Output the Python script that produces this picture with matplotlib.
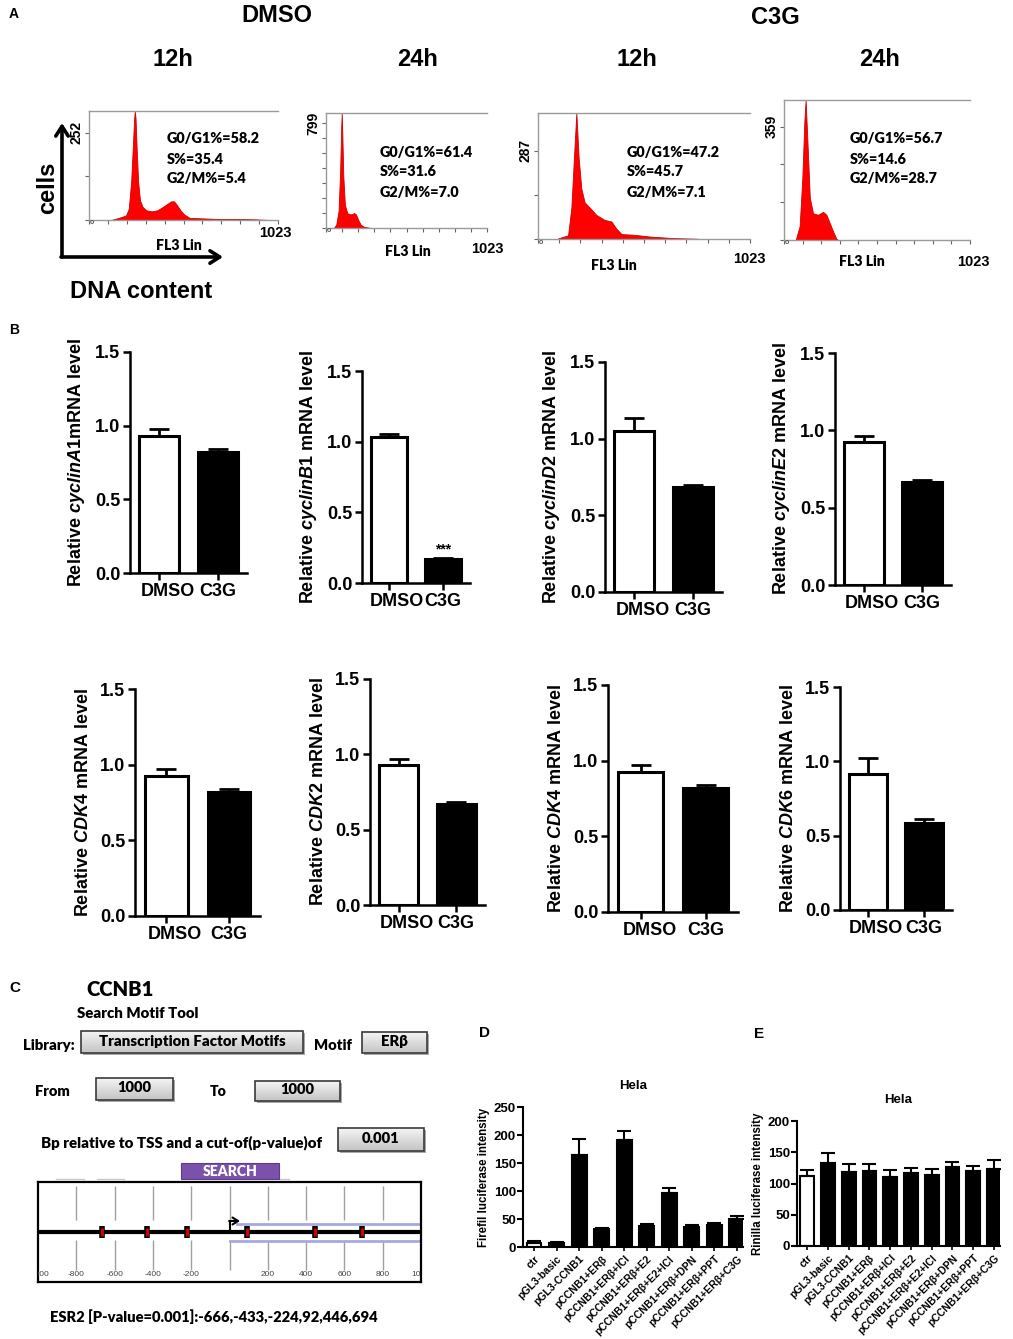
import matplotlib
matplotlib.use('Agg')
import matplotlib.pyplot as plt
from matplotlib import font_manager as fm
from matplotlib.patches import Rectangle
from matplotlib.colors import LinearSegmentedColormap
import numpy as np

plt.rcParams['font.family'] = ['Liberation Sans', 'DejaVu Sans']
plt.rcParams['font.weight'] = 'bold'
plt.rcParams['axes.labelweight'] = 'bold'
plt.rcParams['axes.titleweight'] = 'bold'
plt.rcParams['mathtext.fontset'] = 'custom'
plt.rcParams['mathtext.rm'] = 'Liberation Sans:bold'
plt.rcParams['mathtext.it'] = 'Liberation Sans:bold:italic'
plt.rcParams['mathtext.bf'] = 'Liberation Sans:bold'


def has_bold(fam):
    try:
        path = fm.findfont(fm.FontProperties(family=fam, weight='bold'), fallback_to_default=False)
    except Exception:
        return False
    return 'bold' in path.lower()


# stand-in for the Calibri-like text of the screenshots
CAL = [next(f for f in ['Lato', 'Noto Sans', 'Open Sans', 'Liberation Sans'] if has_bold(f)), 'DejaVu Sans']
CALW = 'heavy'

# ---------------- data ----------------
# A: flow cytometry histograms (FL3 channel -> cell count)
dmso12_ch = [120, 160, 200, 215, 228, 238, 244, 248, 252, 258, 266, 276, 290, 310, 340, 370, 400, 425, 445, 460,
             475, 495, 515, 545, 600, 700, 800, 900, 980]
dmso12_n = [0, 6, 13, 32, 110, 220, 290, 315, 293, 205, 110, 57, 38, 28, 25, 28, 38, 47, 54, 54,
            44, 28, 16, 6, 5, 3, 3, 2, 0]
dmso24_ch = [50, 65, 80, 90, 96, 100, 104, 110, 120, 135, 150, 165, 178, 190, 205, 220, 240, 270, 290]
dmso24_n = [0, 26, 132, 440, 746, 878, 702, 395, 176, 114, 105, 105, 114, 105, 61, 26, 9, 3, 0]
c3g12_ch = [97, 145, 161, 172, 185, 196, 209, 225, 250, 282, 322, 354, 379, 403, 459, 540, 652, 765, 780]
c3g12_n = [2, 12, 102, 246, 410, 266, 164, 119, 102, 78, 62, 57, 33, 16, 14, 8, 3, 1, 0]
c3g24_ch = [64, 86, 101, 112, 119, 129, 142, 160, 187, 215, 233, 252, 270, 288, 298]
c3g24_n = [0, 44, 199, 377, 443, 310, 133, 84, 80, 89, 80, 53, 27, 4, 0]

flow_times = ['12h', '24h', '12h', '24h']
flow_g1 = [58.2, 61.4, 47.2, 56.7]
flow_s = [35.4, 31.6, 45.7, 14.6]
flow_g2m = [5.4, 7.0, 7.1, 28.7]
flow_ylabel = [252, 799, 287, 359]

# B: relative mRNA levels
mrna_genes = ['cyclinA1', 'cyclinB1', 'cyclinD2', 'cyclinE2', 'CDK4', 'CDK2', 'CDK4', 'CDK6']
mrna_groups = ['DMSO', 'C3G']
mrna_dmso = [0.93, 1.03, 1.05, 0.925, 0.925, 0.93, 0.925, 0.915]
mrna_dmso_err = [0.05, 0.025, 0.085, 0.04, 0.045, 0.04, 0.045, 0.105]
mrna_c3g = [0.82, 0.17, 0.685, 0.666, 0.82, 0.67, 0.82, 0.585]
mrna_c3g_err = [0.02, 0.005, 0.015, 0.014, 0.02, 0.015, 0.02, 0.025]

# C: ERβ motif hits relative to TSS
motif_sites = [-666, -433, -224, 92, 446, 694]

# D/E: luciferase
luc_groups = ['ctr', 'pGL3-basic', 'pGL3-CCNB1', 'pCCNB1+ERβ', 'pCCNB1+ERβ+ICI', 'pCCNB1+ERβ+E2',
              'pCCNB1+ERβ+E2+ICI', 'pCCNB1+ERβ+DPN', 'pCCNB1+ERβ+PPT', 'pCCNB1+ERβ+C3G']
firefly = [7, 8, 165, 32, 191, 37, 96, 36, 39, 50]
firefly_err = [3.5, 1.5, 28, 2, 17, 3.5, 10, 3.5, 3.5, 6]
renilla = [112, 133, 118, 120, 111, 117, 114, 126, 120, 123]
renilla_err = [9, 16, 13, 12, 11, 8, 10, 9, 8, 15]

# ---------------- figure ----------------
W, H = 1013, 1339
fig = plt.figure(figsize=(W / 100, H / 100), dpi=100)


def px_axes(left, top, right, bottom):
    return fig.add_axes([left / W, 1 - bottom / H, (right - left) / W, (bottom - top) / H])


ov = fig.add_axes([0, 0, 1, 1])
ov.set_zorder(10)
ov.axis('off')

to_fit = []  # (text, target width in px)


def put(x, y, s, width=None, **kw):
    kw.setdefault('ha', 'center')
    kw.setdefault('va', 'center')
    t = ov.text(x, y, s, **kw)
    if width:
        to_fit.append((t, width))
    return t


# panel letters
for letter, (x, y, fs) in zip('ABCDE', [(14, 14, 10), (14, 330, 10), (15, 988, 11), (484, 1033, 11), (759, 1034, 11)]):
    put(x, y, letter, fontsize=fs)

# ---- A ----
put(277, 16, 'DMSO', fontsize=17)
put(775, 18, 'C3G', fontsize=17)
for x, t in zip([173, 418, 637, 880], flow_times):
    put(x, 59, t, fontsize=17)

flow_data = [(dmso12_ch, dmso12_n), (dmso24_ch, dmso24_n), (c3g12_ch, c3g12_n), (c3g24_ch, c3g24_n)]
flow_boxes = [(89, 111, 278, 220), (326, 113, 487, 228), (538, 113, 750, 239), (784, 100, 970, 240)]
flow_ytop = [315, 878, 410, 443]
flow_nticks = [3, 8, 3, 4]
flow_text_xy = [(167, 139), (380, 152), (627, 152), (850, 139)]
flow_fl3_xy = [(179, 245), (408, 252), (614, 266), (862, 262)]
flow_end_xy = [(275, 233), (487, 249), (749, 259), (973, 262)]

stat_texts = []
fl3_texts = []
for i, (ch, n) in enumerate(flow_data):
    ax = px_axes(*flow_boxes[i])
    ax.fill_between(ch, n, color='#ff0000', edgecolor='#d00000', lw=0.6)
    ax.set_xlim(0, 1023)
    ax.set_ylim(0, flow_ytop[i])
    ax.spines['right'].set_visible(False)
    for s in ['left', 'top', 'bottom']:
        ax.spines[s].set_color('#9a9a9a')
        ax.spines[s].set_linewidth(1)
    ax.set_xticks(np.linspace(0, 1023, 11))
    ax.set_xticklabels([])
    yt = np.linspace(0, flow_ylabel[i], flow_nticks[i])
    ax.set_yticks(yt)
    ax.set_yticklabels([''] * (len(yt) - 1) + [str(flow_ylabel[i])])
    ax.tick_params(axis='both', direction='out', length=3, width=0.8, color='#666666')
    ax.tick_params(axis='y', labelrotation=90, labelsize=10, pad=1)
    for lab in ax.get_yticklabels():
        lab.set_va('center')
    tx, ty = flow_text_xy[i]
    for k, s in enumerate(['G0/G1%%=%.1f' % flow_g1[i], 'S%%=%.1f' % flow_s[i], 'G2/M%%=%.1f' % flow_g2m[i]]):
        stat_texts.append(put(tx, ty + 20 * k, s, ha='left', fontsize=10.5, family=CAL, fontweight=CALW))
    fl3_texts.append(put(*flow_fl3_xy[i], 'FL3 Lin', fontsize=10.5, family=CAL, fontweight=CALW))
    put(*flow_end_xy[i], '1023', fontsize=10.5)
    put(flow_boxes[i][0] + 3, flow_boxes[i][3] + 3, 'o', fontsize=5, color='#555555')

# big axis arrows
ov.annotate('', xy=(62, 123), xytext=(62, 257),
            arrowprops=dict(arrowstyle='->,head_length=0.7,head_width=0.45', lw=2.6, color='black',
                            shrinkA=0, shrinkB=0))
ov.annotate('', xy=(223, 257), xytext=(61, 257),
            arrowprops=dict(arrowstyle='->,head_length=0.7,head_width=0.45', lw=2.6, color='black',
                            shrinkA=0, shrinkB=0))
put(48, 188, 'cells', fontsize=17, rotation=90)
put(141, 291, 'DNA content', fontsize=17)

# ---- B ----
mrna_boxes = [(130, 352, 247, 573), (362, 371, 470, 583), (605, 362, 722, 592), (835, 353, 951, 585),
              (135, 689, 260, 916), (370, 679, 485, 905), (608, 685, 738, 912), (840, 687, 952, 910)]
for i, gene in enumerate(mrna_genes):
    ax = px_axes(*mrna_boxes[i])
    x = np.arange(len(mrna_groups))
    vals = [mrna_dmso[i], mrna_c3g[i]]
    errs = [mrna_dmso_err[i], mrna_c3g_err[i]]
    ax.bar(x, vals, width=0.68, color=['white', 'black'], edgecolor='black', linewidth=2.2, zorder=2)
    ax.errorbar(x, vals, yerr=[[0, 0], errs], fmt='none', ecolor='black', elinewidth=2,
                capsize=7, capthick=2, zorder=3)
    ax.set_xlim(-0.5, 1.5)
    ax.set_ylim(0, 1.5)
    ax.set_yticks([0, 0.5, 1.0, 1.5])
    ax.set_yticklabels(['%.1f' % v for v in [0, 0.5, 1.0, 1.5]])
    # tick marks at the bars; labels sit on minor ticks (DMSO drawn slightly right, as in the source)
    ax.xaxis.remove_overlapping_locs = False
    ax.set_xticks(x)
    ax.set_xticklabels([])
    ax.set_xticks(x + np.array([0.14, 0.0]), minor=True)
    ax.set_xticklabels(mrna_groups, minor=True)
    for s in ['top', 'right']:
        ax.spines[s].set_visible(False)
    for s in ['left', 'bottom']:
        ax.spines[s].set_linewidth(1.8)
    ax.tick_params(which='major', length=5, width=1.8, labelsize=13, pad=2)
    ax.tick_params(axis='x', which='minor', length=0, labelsize=13, pad=7)
    gap = '' if i == 0 else ' '
    ax.set_ylabel('Relative $\\mathit{%s}$%smRNA level' % (gene, gap), fontsize=13, labelpad=6)
    if gene == 'cyclinB1':
        ax.text(1, mrna_c3g[i] + mrna_c3g_err[i] + 0.06, '***', ha='center', va='center', fontsize=10)

# ---- C ----
put(86, 990, 'CCNB1', width=68, ha='left', fontsize=16, family=CAL, fontweight=CALW)
put(77, 1013, 'Search Motif Tool', width=122, ha='left', fontsize=11, family=CAL, fontweight=CALW)
for s, x, y, w in [('Library:', 23, 1045, 52), ('Motif', 314, 1046, 38), ('From', 35, 1092, 35),
                   ('To', 210, 1091, 17), ('Bp relative to TSS and a cut-of(p-value)of', 41, 1143, 283)]:
    put(x, y, s, width=w, ha='left', fontsize=10.5, family=CAL, fontweight=CALW)
put(50, 1317, 'ESR2 [P-value=0.001]:' + ','.join(str(v) for v in motif_sites), width=329, ha='left',
    fontsize=10.5, family=CAL, fontweight=CALW)

grad = LinearSegmentedColormap.from_list('btn', ['#f4f4f4', '#c4c4c4'])
buttons = [('Transcription Factor Motifs', 81, 1031, 303, 1053, 188), ('ERβ', 362, 1032, 427, 1053, 27),
           ('1000', 96, 1078, 173, 1100, 34), ('1000', 255, 1081, 340, 1101, 34),
           ('0.001', 338, 1128, 424, 1151, 38)]
for s, x0, y0, x1, y1, w in buttons:
    ov.add_patch(Rectangle((x0 + 2, y0 + 2), x1 - x0, y1 - y0, facecolor='#a8a8a8', edgecolor='none', zorder=1))
    ov.imshow(np.linspace(0, 1, 20).reshape(-1, 1), cmap=grad, extent=(x0, x1, y1, y0), aspect='auto', zorder=2)
    ov.add_patch(Rectangle((x0, y0), x1 - x0, y1 - y0, facecolor='none', edgecolor='#3a3a3a', lw=1.2, zorder=3))
    put((x0 + x1) / 2, (y0 + y1) / 2 - 1, s, width=w, fontsize=10.5, family=CAL, fontweight=CALW, zorder=4)

ov.add_patch(Rectangle((181, 1163), 98, 16, facecolor='#7b52ab', edgecolor='#5e3c8c', lw=0.8, zorder=3))
put(230, 1171, 'SEARCH', width=55, fontsize=10, family=CAL, fontweight=CALW, color='white', zorder=4)
for xa, xb in [(56, 84), (97, 124), (279, 289)]:
    ov.plot([xa, xb], [1179, 1179], color='#c8c8c8', lw=1)

gax = px_axes(38, 1182, 421, 1282)
gax.set_xlim(-1000, 1000)
gax.set_ylim(0, 100)
grid_bp = np.arange(-800, 1000, 200)
gax.vlines(grid_bp, 62, 96, color='#a0a0a0', lw=1)
gax.vlines(grid_bp, 12, 42, color='#a0a0a0', lw=1)
gax.plot([40, 1000], [58, 58], color='#a8a8e0', lw=2)
gax.plot([0, 1000], [41, 41], color='#a8a8e0', lw=2)
gax.plot([-1000, 1000], [50, 50], color='black', lw=3)
gax.plot([0, 0], [50, 61], color='black', lw=1.5)
gax.annotate('', xy=(55, 61), xytext=(-2, 61),
             arrowprops=dict(arrowstyle='->,head_length=0.4,head_width=0.25', lw=1.5, color='black',
                             shrinkA=0, shrinkB=0))
for site in motif_sites:
    gax.plot([site, site], [44, 56], color='black', lw=4, solid_capstyle='butt')
    gax.plot([site, site], [46, 54], color='#e00000', lw=2, solid_capstyle='butt')
for b in np.arange(-1000, 1001, 200):
    if b != 0:
        gax.text(b, 7, str(b), ha='center', va='center', fontsize=6, color='#444444',
                 fontweight='normal', clip_on=True)
gax.set_xticks([])
gax.set_yticks([])
for s in gax.spines.values():
    s.set_linewidth(1.6)

# ---- D / E ----
luc_sets = [((523, 1107, 743, 1247), firefly, firefly_err, 'Firefil luciferase intensity', 250, 9.27),
            ((797, 1121, 1000, 1246), renilla, renilla_err, 'Rinilla luciferase intensity', 200, 9.29)]
for box, vals, errs, ylab, ymax, xr in luc_sets:
    ax = px_axes(*box)
    x = np.arange(len(luc_groups))
    colors = ['white'] + ['black'] * (len(luc_groups) - 1)
    ax.bar(x, vals, width=0.66, color=colors, edgecolor='black', linewidth=1.5, zorder=2)
    ax.errorbar(x, vals, yerr=[np.zeros(len(vals)), errs], fmt='none', ecolor='black', elinewidth=1.5,
                capsize=5, capthick=1.5, zorder=3)
    ax.set_xlim(-0.49, xr)
    ax.set_ylim(0, ymax)
    ax.set_yticks(np.arange(0, ymax + 1, 50))
    ax.set_xticks(x)
    ax.set_xticklabels(luc_groups, rotation=45, ha='right', rotation_mode='anchor', fontsize=7.5)
    for s in ['top', 'right']:
        ax.spines[s].set_visible(False)
    for s in ['left', 'bottom']:
        ax.spines[s].set_linewidth(1.5)
    ax.tick_params(axis='y', length=4, width=1.5, labelsize=9.5, pad=1)
    ax.tick_params(axis='x', length=3, width=1.2, pad=2)
    ax.set_ylabel(ylab, fontsize=8.3, labelpad=3)
    ax.set_title('Hela', fontsize=9.5, pad=13)

ov.set_xlim(0, W)
ov.set_ylim(H, 0)

# scale the screenshot-style labels to the widths they take in the source
renderer = fig.canvas.get_renderer()
for t, w in to_fit:
    t.set_fontsize(t.get_fontsize() * w / t.get_window_extent(renderer).width)
g1_size = 10.5 * 93 / stat_texts[0].get_window_extent(renderer).width
for t in stat_texts:
    t.set_fontsize(g1_size)
fl3_size = 10.5 * 46 / fl3_texts[0].get_window_extent(renderer).width
for t in fl3_texts:
    t.set_fontsize(fl3_size)

fig.savefig('out.png', dpi=100)
